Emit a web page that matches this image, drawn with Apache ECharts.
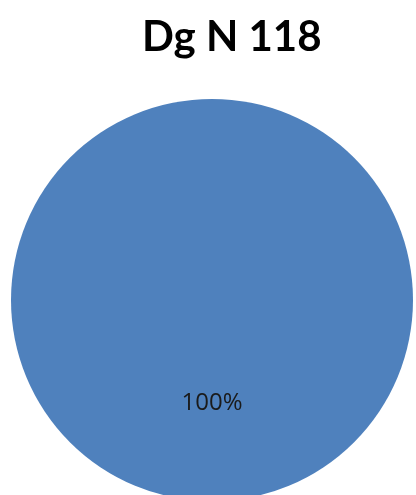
<!DOCTYPE html>
<html>
<head>
<meta charset="utf-8">
<style>
  html, body { margin: 0; padding: 0; background: #ffffff; }
  #chart { width: 416px; height: 495px; }
</style>
<script src="https://cdn.jsdelivr.net/npm/echarts@6/dist/echarts.min.js"></script>
</head>
<body>
<div id="chart"></div>
<script>
// Single-slice pie: one category holding the whole share
const chartTitle = 'Dg N 118';
const categories = ['Dg N 118'];
const values = [100];

const chart = echarts.init(document.getElementById('chart'), null, { renderer: 'canvas' });

chart.setOption({
  animation: false,
  backgroundColor: '#ffffff',
  title: {
    text: chartTitle,
    left: 137,
    top: 11,
    textStyle: {
      fontFamily: 'Lato',
      fontWeight: 'bold',
      fontSize: 42,
      color: '#000000'
    }
  },
  series: [{
    type: 'pie',
    center: [212, 300],
    radius: [0, 201],
    startAngle: 90,
    clockwise: true,
    data: categories.map((name, i) => ({ name, value: values[i] })),
    itemStyle: { color: '#4F81BD' },
    label: {
      show: true,
      position: 'inside',
      formatter: (p) => Math.round(p.percent) + '%',
      fontFamily: 'Open Sans',
      fontSize: 24,
      color: '#1a1a1a',
      padding: [4, 0, 0, 0]
    },
    labelLine: { show: false },
    emphasis: { disabled: true }
  }]
});
</script>
</body>
</html>
